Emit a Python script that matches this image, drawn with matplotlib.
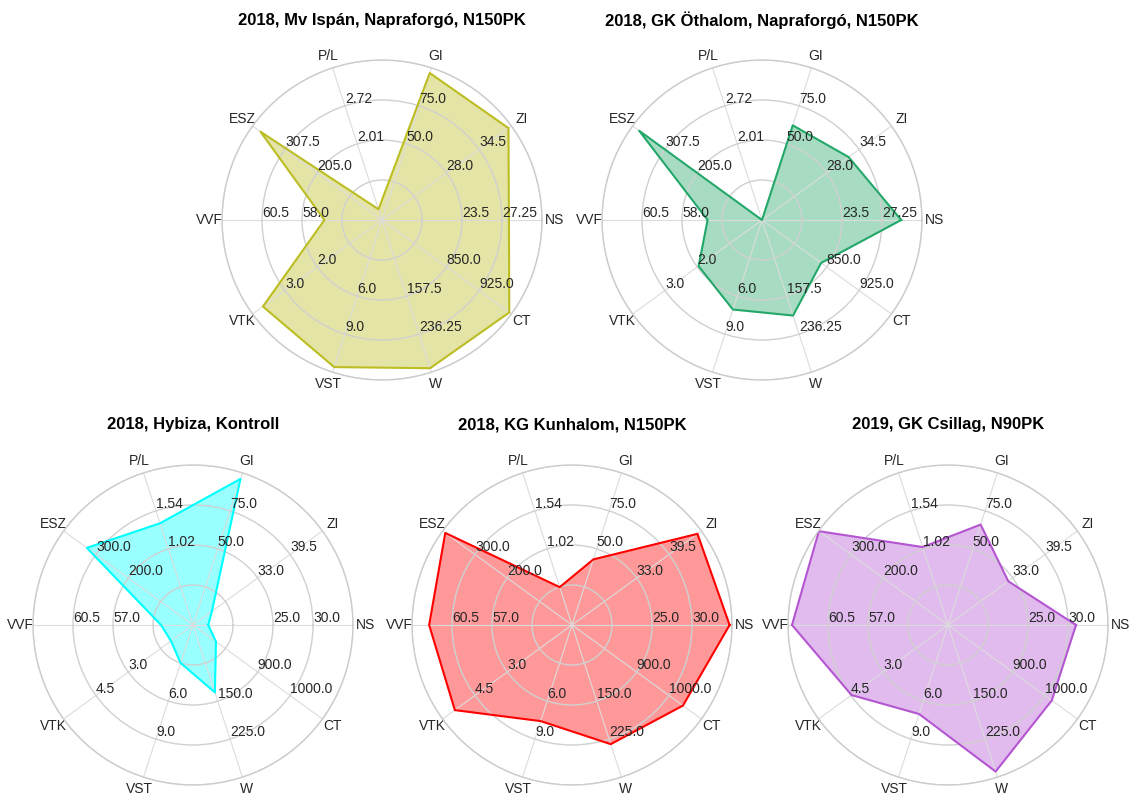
import numpy as np
import matplotlib
matplotlib.use("Agg")
from matplotlib import pyplot as plt

plt.rcParams['font.family'] = ['Liberation Sans', 'DejaVu Sans']

variables = ['NS', 'ZI', 'GI', 'P/L', 'ESZ', 'VVF', 'VTK', 'VST', 'W', 'CT']

# axis ranges (value at centre, value at outer circle)
ranges_top = [(16, 31), (15, 41), (0, 100), (0.59, 3.43), (0, 410),
              (53, 63), (0, 4), (0, 12), (0, 315), (700, 1000)]
ranges_bottom = [(15, 35), (20, 46), (0, 100), (0, 2.05), (0, 400),
                 (50, 64), (0, 6), (0, 12), (0, 300), (700, 1100)]

titles = ['2018, Mv Ispán, Napraforgó, N150PK',
          '2018, GK Öthalom, Napraforgó, N150PK',
          '2018, Hybiza, Kontroll',
          '2018, KG Kunhalom, N150PK',
          '2019, GK Csillag, N90PK']

mv_ispan = [27.9, 40.4, 96.6, 0.79, 385, 56.6, 3.68, 11.6, 306.8, 995]
gk_othalom = [29.05, 32.4, 62.2, 0.59, 389, 56.4, 1.96, 7.06, 197.8, 837]
hybiza = [16.9, 23.8, 96.0, 1.37, 328, 52.8, 1.02, 3.0, 132.9, 771]
kg_kunhalom = [34.7, 45.2, 43.1, 0.51, 391.6, 62.5, 5.43, 7.58, 234.9, 1042.8]
gk_csillag = [31.0, 32.1, 66.0, 1.05, 399, 63.65, 4.47, 7.02, 288.9, 1020.8]

datasets = [mv_ispan, gk_othalom, hybiza, kg_kunhalom, gk_csillag]
scales = [ranges_top, ranges_top, ranges_bottom, ranges_bottom, ranges_bottom]
colors = ['#bcbd22', '#23a86a', '#00ffff', '#ff0000', '#b455d2']

# centres of the five radar plots in pixels (from top left), radius
W_PX, H_PX = 1134, 796
centres = [(382, 220), (762, 220), (193, 625), (572, 625), (948, 625)]
R = 160

fig = plt.figure(figsize=(W_PX / 100, H_PX / 100), dpi=100)

angles = np.arange(0, 360, 360. / len(variables))
theta = np.deg2rad(angles)


def scale(vals, rngs):
    return [(v - lo) / (hi - lo) for v, (lo, hi) in zip(vals, rngs)]


for k in range(5):
    cx, cy = centres[k]
    ax = fig.add_axes([(cx - R) / W_PX, (H_PX - cy - R) / H_PX,
                       2 * R / W_PX, 2 * R / H_PX], polar=True)
    ax.set_facecolor('white')
    ax.set_ylim(0, 1)
    ax.set_rgrids([0.25, 0.5, 0.75, 1.0], labels=[''] * 4)
    ax.set_thetagrids(angles, labels=variables, fontsize=10, color='.15')
    ax.tick_params(axis='x', pad=2, length=0)
    ax.grid(True, color='#d0d0d0', linewidth=1)
    ax.xaxis.grid(True, color='#dcdcdc', linewidth=0.8)
    ax.spines['polar'].set_color('#cccccc')
    ax.spines['polar'].set_linewidth(1)

    rngs = scales[k]
    for i, (lo, hi) in enumerate(rngs):
        grid = np.linspace(lo, hi, 5)
        for r, val in zip([0.5, 0.75], grid[2:4]):
            ax.text(theta[i], r, '{}'.format(round(float(val), 2)),
                    ha='left', va='bottom', fontsize=10, color='.15')

    r = scale(datasets[k], rngs)
    t = np.r_[theta, theta[0]]
    r = np.r_[r, r[0]]
    ax.plot(t, r, color=colors[k], linewidth=1.5)
    ax.fill(t, r, color=colors[k], alpha=0.4, linewidth=0)
    ax.text(0.5, 0.5 + 200 / (2 * R), titles[k], transform=ax.transAxes,
            ha='center', va='center', fontsize=12, fontweight='bold')

plt.savefig('out.png', dpi=100)
